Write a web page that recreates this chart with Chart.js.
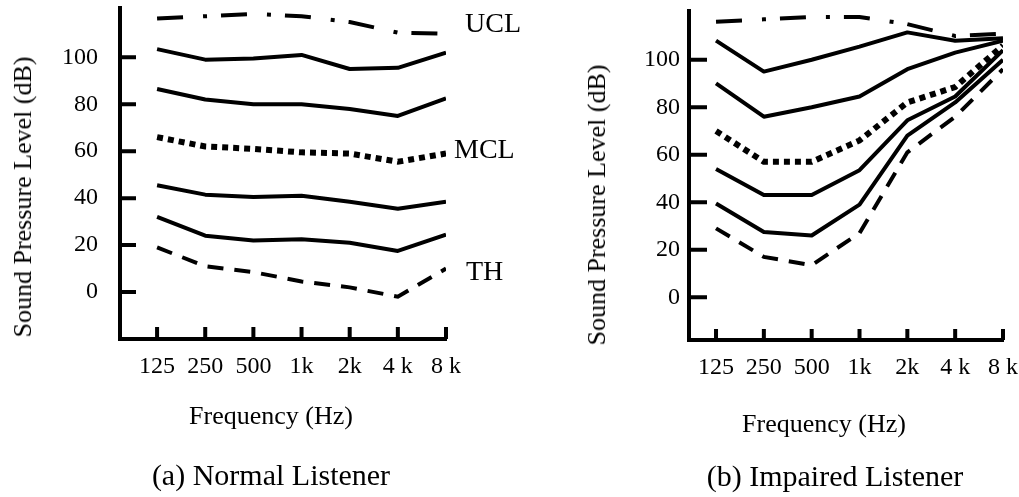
<!DOCTYPE html>
<html>
<head>
<meta charset="utf-8">
<script src="https://cdn.jsdelivr.net/npm/chart.js@4"></script>
<style>
  body { margin: 0; background: #fff; }
  #page { position: relative; width: 1019px; height: 497px; overflow: hidden; background: #fff; }
  canvas { position: absolute; top: 0; }
  .txt { position: absolute; font-family: "Liberation Serif", serif; color: #000; white-space: nowrap; transform: translate(-50%, -50%); line-height: 1; }
  .ytitle { transform: translate(-50%, -50%) rotate(-90deg); }
</style>
</head>
<body>
<div id="page">
  <canvas id="normal" width="540" height="497" style="left:0"></canvas>
  <canvas id="impaired" width="459" height="497" style="left:560px"></canvas>

  <div class="txt ytitle" style="left:23px; top:197px; font-size:26px">Sound Pressure Level (dB)</div>
  <div class="txt" style="left:271px; top:416px; font-size:26px">Frequency (Hz)</div>
  <div class="txt" style="left:271px; top:475px; font-size:30px">(a) Normal Listener</div>

  <div class="txt ytitle" style="left:597px; top:205px; font-size:26px">Sound Pressure Level (dB)</div>
  <div class="txt" style="left:824px; top:424px; font-size:26px">Frequency (Hz)</div>
  <div class="txt" style="left:835px; top:476px; font-size:30px">(b) Impaired Listener</div>
</div>

<script>
// Categories and tick labels
var freqLabels = ["125", "250", "500", "1k", "2k", "4 k", "8 k"];
var yTickValues = [0, 20, 40, 60, 80, 100, 120];

// (a) Normal listener, dB SPL per frequency
var normalUCL   = [116.5, 117.5, 118.5, 117.5, 115, 110.5, 110];
var normalLoud  = [103.5, 99, 99.5, 101, 95, 95.5, 102];
var normalHigh  = [86.5, 82, 80, 80, 78, 75, 82.5];
var normalMCL   = [66, 62, 61, 59.5, 59, 55.5, 59];
var normalLow   = [45.5, 41.5, 40.5, 41, 38.5, 35.5, 38.5];
var normalSoft  = [32, 24, 22, 22.5, 21, 17.5, 24.5];
var normalTH    = [19, 11, 8.5, 4.5, 2, -2, 10];

// (b) Impaired listener
var impairedUCL  = [116, 117, 118, 118, 115, 110, 111];
var impairedLoud = [108, 95, 100, 105.5, 111.5, 108, 109];
var impairedHigh = [90, 76, 80, 84.5, 96, 103, 108];
var impairedMCL  = [70, 57, 57, 66, 82, 88.5, 106];
var impairedLow  = [54, 43, 43, 53.5, 74.5, 84.5, 104];
var impairedSoft = [39.5, 27.5, 26, 39, 68, 82, 100];
var impairedTH   = [29, 17, 13.5, 27, 61, 76, 96];

var serif = "'Liberation Serif', 'Times New Roman', serif";

function pts(values) {
    return values.map(function (v, i) { return { x: i, y: v }; });
}

// line styles
function solid(values) {
    return { data: pts(values), borderColor: "#000", borderWidth: 4, pointRadius: 0, tension: 0, borderJoinStyle: "round" };
}
function dotted(values) {
    return { data: pts(values), borderColor: "#000", borderWidth: 6, borderDash: [6, 5], pointRadius: 0, tension: 0 };
}
function dashed(values) {
    return { data: pts(values), borderColor: "#000", borderWidth: 4, borderDash: [16, 11], pointRadius: 0, tension: 0 };
}
function dashDot(values) {
    return { data: pts(values), borderColor: "#000", borderWidth: 4, borderDash: [26, 20, 4, 14], pointRadius: 0, tension: 0 };
}

// inward tick marks, drawn from the chart's own scales
var inTicks = {
    id: "inTicks",
    afterDraw: function (chart, args, opts) {
        var ctx = chart.ctx, area = chart.chartArea;
        ctx.save();
        ctx.strokeStyle = "#000";
        ctx.lineWidth = opts.width;
        ctx.beginPath();
        chart.scales.y.ticks.forEach(function (t) {
            var py = chart.scales.y.getPixelForValue(t.value);
            ctx.moveTo(area.left, py);
            ctx.lineTo(area.left + opts.y, py);
        });
        chart.scales.x.ticks.forEach(function (t) {
            var px = chart.scales.x.getPixelForValue(t.value);
            ctx.moveTo(px, area.bottom);
            ctx.lineTo(px, area.bottom - opts.x);
        });
        ctx.stroke();
        ctx.restore();
    }
};

// UCL / MCL / TH labels at the end of a line
var endLabels = {
    id: "endLabels",
    afterDatasetsDraw: function (chart) {
        var ctx = chart.ctx;
        ctx.save();
        ctx.fillStyle = "#000";
        ctx.font = "28px " + serif;
        ctx.textAlign = "left";
        ctx.textBaseline = "middle";
        chart.data.datasets.forEach(function (ds, i) {
            if (!ds.endLabel) return;
            var meta = chart.getDatasetMeta(i);
            var last = meta.data[meta.data.length - 1];
            ctx.fillText(ds.endLabel, last.x + ds.labelDx, last.y + ds.labelDy);
        });
        ctx.restore();
    }
};

function makeChart(id, datasets, cfg) {
    return new Chart(document.getElementById(id).getContext("2d"), {
        type: "line",
        data: { datasets: datasets },
        plugins: [inTicks, endLabels],
        options: {
            responsive: false,
            animation: false,
            devicePixelRatio: 1,
            layout: { padding: cfg.padding },
            plugins: {
                legend: { display: false },
                tooltip: { enabled: false },
                inTicks: { x: cfg.xTick, y: cfg.yTick, width: 4 }
            },
            scales: {
                x: {
                    type: "linear",
                    min: cfg.xMin,
                    max: 6,
                    afterBuildTicks: function (scale) {
                        scale.ticks = freqLabels.map(function (l, i) { return { value: i }; });
                    },
                    afterFit: function (scale) {
                        scale.height = 60;
                        scale.paddingLeft = 0;
                        scale.paddingRight = 0;
                    },
                    grid: { display: false, drawTicks: false },
                    border: { display: true, width: 4, color: "#000" },
                    ticks: {
                        autoSkip: false,
                        maxRotation: 0,
                        padding: 13,
                        color: "#000",
                        font: { family: serif, size: 24 },
                        callback: function (v, i) { return freqLabels[i]; }
                    }
                },
                y: {
                    min: cfg.yMin,
                    max: cfg.yMax,
                    afterBuildTicks: function (scale) {
                        scale.ticks = yTickValues.map(function (v) { return { value: v }; });
                    },
                    afterFit: function (scale) {
                        scale.width = cfg.yWidth;
                        scale.paddingTop = 0;
                        scale.paddingBottom = 0;
                    },
                    grid: { display: false, drawTicks: false },
                    border: { display: true, width: 4, color: "#000" },
                    ticks: {
                        padding: cfg.yPad,
                        color: "#000",
                        font: { family: serif, size: 24 },
                        callback: function (v) { return v <= 100 ? String(v) : null; }
                    }
                }
            }
        }
    });
}

// (a) Normal Listener
var ucl = dashDot(normalUCL);
ucl.endLabel = "UCL"; ucl.labelDx = 19; ucl.labelDy = -9;
var mcl = dotted(normalMCL);
mcl.endLabel = "MCL"; mcl.labelDx = 8; mcl.labelDy = -3;
var th = dashed(normalTH);
th.endLabel = "TH"; th.labelDx = 20; th.labelDy = 4;

var normalChart = makeChart("normal", [
    ucl, solid(normalLoud), solid(normalHigh), mcl, solid(normalLow), solid(normalSoft), th
], {
    padding: { left: 0, top: 8, right: 94, bottom: 98 },
    xMin: -0.77, yMin: -20, yMax: 121, yWidth: 120, yPad: 22, xTick: 12, yTick: 16
});

// (b) Impaired Listener
var impairedChart = makeChart("impaired", [
    dashDot(impairedUCL), solid(impairedLoud), solid(impairedHigh), dotted(impairedMCL),
    solid(impairedLow), solid(impairedSoft), dashed(impairedTH)
], {
    padding: { left: 0, top: 11, right: 16, bottom: 97 },
    xMin: -0.565, yMin: -18, yMax: 120.5, yWidth: 129, yPad: 9, xTick: 11, yTick: 18
});
</script>
</body>
</html>
